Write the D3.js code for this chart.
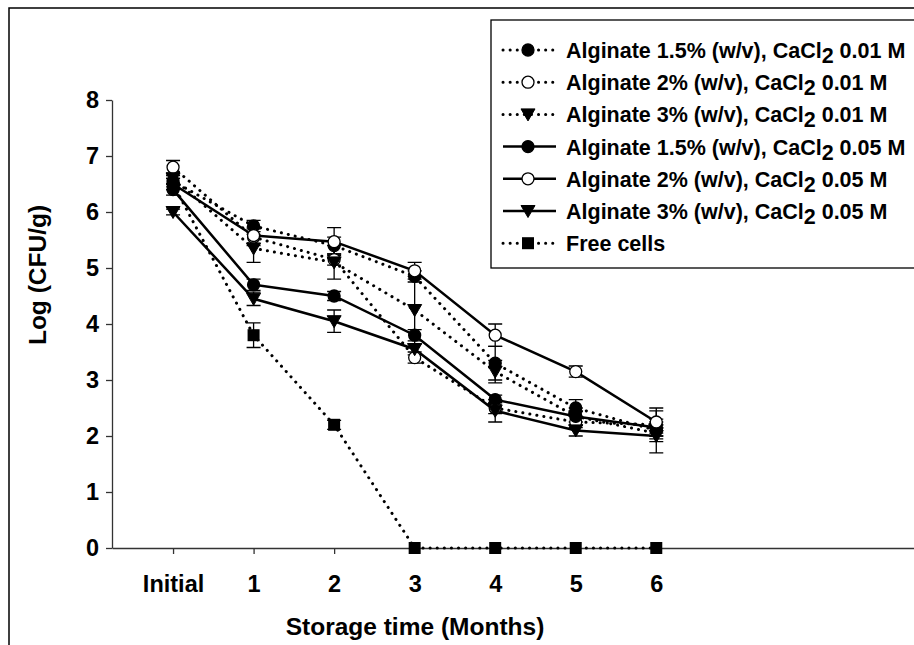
<!DOCTYPE html>
<html>
<head>
<meta charset="utf-8">
<script src="https://cdn.jsdelivr.net/npm/d3@7"></script>
<style>
  body { margin: 0; background: #fff; }
  svg { display: block; font-family: "Liberation Sans", Arial, sans-serif; font-weight: bold; }
</style>
</head>
<body>
<div id="chart"></div>
<script>
// storage months
var months = ["Initial", "1", "2", "3", "4", "5", "6"];

// Log (CFU/g) means and error bars
var alg15_001 = [6.55, 5.75, 5.4, 4.85, 3.3, 2.5, 2.1];
var alg15_001_err = [0.1, 0.1, 0.15, 0.1, 0.3, 0.15, 0.1];
var alg2_001 = [6.8, 5.55, 5.15, 3.4, 2.5, 2.25, 2.2];
var alg2_001_err = [0.12, 0.15, 0.1, 0.1, 0.1, 0.1, 0.25];
var alg3_001 = [6.6, 5.35, 5.1, 4.25, 3.15, 2.35, 2.05];
var alg3_001_err = [0.1, 0.25, 0.3, 0.6, 0.2, 0.15, 0.15];
var alg15_005 = [6.4, 4.7, 4.5, 3.8, 2.65, 2.35, 2.15];
var alg15_005_err = [0.1, 0.1, 0.08, 0.1, 0.08, 0.1, 0.1];
var alg2_005 = [6.5, 5.58, 5.47, 4.95, 3.8, 3.15, 2.25];
var alg2_005_err = [0.1, 0.15, 0.25, 0.15, 0.2, 0.1, 0.25];
var alg3_005 = [6.0, 4.45, 4.05, 3.55, 2.45, 2.1, 2.0];
var alg3_005_err = [0.05, 0.12, 0.2, 0.1, 0.2, 0.1, 0.3];
var free = [6.5, 3.8, 2.2, 0, 0, 0, 0];
var free_err = [0.1, 0.22, 0.08, 0, 0, 0, 0];

var yTicks = [0, 1, 2, 3, 4, 5, 6, 7, 8];

var series = [
  { name: "Alginate 1.5% (w/v), CaCl", conc: "0.01 M", vals: alg15_001, err: alg15_001_err, dotted: true, sym: "circle", fill: "#000" },
  { name: "Alginate 2% (w/v), CaCl", conc: "0.01 M", vals: alg2_001, err: alg2_001_err, dotted: true, sym: "circle", fill: "#fff" },
  { name: "Alginate 3% (w/v), CaCl", conc: "0.01 M", vals: alg3_001, err: alg3_001_err, dotted: true, sym: "tri", fill: "#000" },
  { name: "Alginate 1.5% (w/v), CaCl", conc: "0.05 M", vals: alg15_005, err: alg15_005_err, dotted: false, sym: "circle", fill: "#000" },
  { name: "Alginate 2% (w/v), CaCl", conc: "0.05 M", vals: alg2_005, err: alg2_005_err, dotted: false, sym: "circle", fill: "#fff" },
  { name: "Alginate 3% (w/v), CaCl", conc: "0.05 M", vals: alg3_005, err: alg3_005_err, dotted: false, sym: "tri", fill: "#000" },
  { name: "Free cells", conc: null, vals: free, err: free_err, dotted: true, sym: "square", fill: "#000" }
];

var W = 914, H = 645;
var svg = d3.select("#chart").append("svg").attr("width", W).attr("height", H);

// outer frame (top + left only, image is cropped)
svg.append("path").attr("d", "M9,645V8H914").attr("fill", "none").attr("stroke", "#000").attr("stroke-width", 1.5);

var x = d3.scaleLinear().domain([-0.758, 9.2]).range([112, 914]);
var y = d3.scaleLinear().domain([0, 8]).range([548, 100]);

// axes
var xAxis = svg.append("g").attr("transform", "translate(0," + y(0) + ")")
  .call(d3.axisBottom(x).tickValues(d3.range(months.length)).tickFormat(function(i) { return months[i]; })
    .tickSizeInner(6).tickSizeOuter(0).tickPadding(21));
var yAxis = svg.append("g").attr("transform", "translate(" + x.range()[0] + ",0)")
  .call(d3.axisLeft(y).tickValues(yTicks).tickSizeInner(6).tickSizeOuter(0).tickPadding(7));
[xAxis, yAxis].forEach(function(g) {
  g.selectAll("path, line").attr("stroke", "#333").attr("stroke-width", 1.3);
  g.selectAll("text").attr("font-size", 23.5).attr("font-family", "Liberation Sans, Arial, sans-serif").attr("font-weight", "bold").attr("fill", "#000");
});

svg.append("text").attr("x", 415).attr("y", 635).attr("text-anchor", "middle").attr("font-size", 24.5).text("Storage time (Months)");
svg.append("text").attr("transform", "translate(46,275) rotate(-90)").attr("text-anchor", "middle").attr("font-size", 24.5).text("Log (CFU/g)");

// symbol drawing
function drawSym(g, sym, fill, cx, cy) {
  if (sym === "circle") {
    g.append("circle").attr("cx", cx).attr("cy", cy).attr("r", 6).attr("fill", fill).attr("stroke", "#000").attr("stroke-width", 1.3);
  } else if (sym === "tri") {
    g.append("path").attr("d", "M" + (cx - 7) + "," + (cy - 5.5) + "H" + (cx + 7) + "L" + cx + "," + (cy + 6.5) + "Z").attr("fill", fill).attr("stroke", "#000");
  } else {
    g.append("rect").attr("x", cx - 6).attr("y", cy - 6).attr("width", 12).attr("height", 12).attr("fill", fill);
  }
}

var line = d3.line().x(function(d, i) { return x(i); }).y(function(d) { return y(d); });
var plot = svg.append("g");

// lines first
series.forEach(function(s) {
  plot.append("path").datum(s.vals).attr("d", line).attr("fill", "none").attr("stroke", "#000")
    .attr("stroke-width", s.dotted ? 3 : 2.5)
    .attr("stroke-linecap", s.dotted ? "round" : "butt")
    .attr("stroke-dasharray", s.dotted ? "0.1,7" : null);
});

// error bars
series.forEach(function(s) {
  s.vals.forEach(function(v, i) {
    var e = s.err[i];
    if (!e) return;
    var cx = x(i), y1 = y(v + e), y2 = y(v - e);
    plot.append("path").attr("d", "M" + cx + "," + y1 + "V" + y2 + "M" + (cx - 7) + "," + y1 + "H" + (cx + 7) + "M" + (cx - 7) + "," + y2 + "H" + (cx + 7))
      .attr("stroke", "#000").attr("stroke-width", 1.3).attr("fill", "none");
  });
});

// markers
series.forEach(function(s) {
  s.vals.forEach(function(v, i) { drawSym(plot, s.sym, s.fill, x(i), y(v)); });
});

// legend
var lg = svg.append("g");
lg.append("rect").attr("x", 491).attr("y", 20).attr("width", 440).attr("height", 248).attr("fill", "#fff").attr("stroke", "#000").attr("stroke-width", 1.3);
series.forEach(function(s, k) {
  var cy = 50 + k * 32.2;
  lg.append("line").attr("x1", 503).attr("x2", 556).attr("y1", cy).attr("y2", cy).attr("stroke", "#000")
    .attr("stroke-width", s.dotted ? 3 : 2.5)
    .attr("stroke-linecap", s.dotted ? "round" : "butt")
    .attr("stroke-dasharray", s.dotted ? "0.1,7" : null);
  drawSym(lg, s.sym, s.fill, 528, cy);
  var t = lg.append("text").attr("x", 566).attr("y", cy + 8).attr("font-size", 21.5);
  t.append("tspan").text(s.name);
  if (s.conc) {
    t.append("tspan").attr("dy", 5).text("2");
    t.append("tspan").attr("dy", -5).text(" " + s.conc);
  }
});
</script>
</body>
</html>
